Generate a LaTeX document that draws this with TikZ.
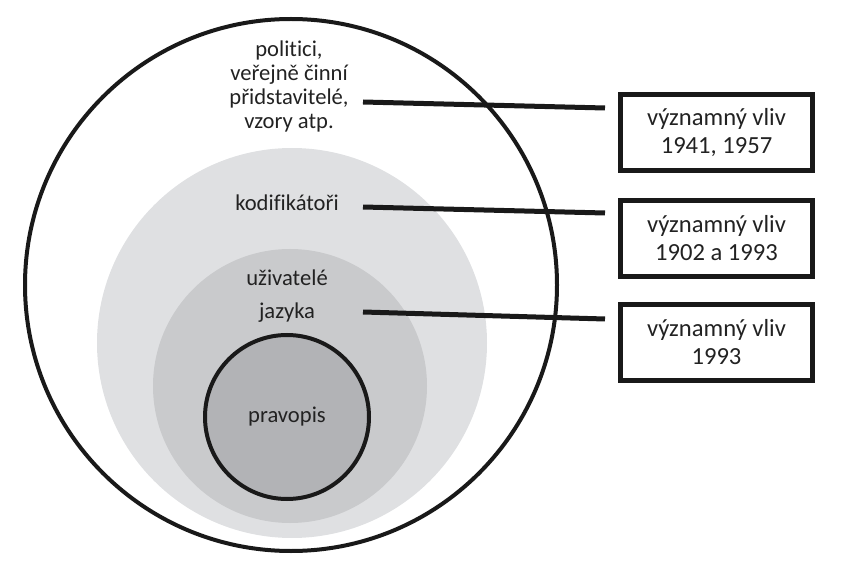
\documentclass[tikz,border=0pt]{standalone}
\usepackage{fontspec}
\setmainfont[Ligatures={NoCommon}]{Carlito}
\usetikzlibrary{positioning}
\definecolor{ringouter}{HTML}{DFE0E2}
\definecolor{ringmid}{HTML}{C9CACC}
\definecolor{ringcore}{HTML}{B2B3B6}
\definecolor{inktext}{HTML}{222222}
\tikzset{
   circle text/.style={font=\fontsize{11.3}{12}\selectfont, text=inktext,
      align=center, inner sep=0pt},
   vliv box/.style={draw=black!90, line width=2.5pt, minimum width=96pt,
      minimum height=38pt, inner sep=0pt, align=center, text=inktext,
      font=\fontsize{12.3}{14}\selectfont},
   link/.style={draw=black!90, line width=2.5pt},
   ring line/.style={draw=black!90, line width=2pt},
    }
\begin{document}
\begin{tikzpicture}[x=0.5pt,y=-0.5pt]
            \useasboundingbox (0,0) rectangle (847,567);
            % the rings
            \fill[ringouter] (292,343) circle (195);
            \fill[ringmid] (290,386) circle (137);
            \fill[ringcore] (287,417) circle (82);
            \draw[ring line] (287,417) circle (82);
            \draw[ring line] (291,285) circle (266);
            % texts in the rings
            \node[circle text] (politici) at (289,86) {politici,\\ veřejně činní\\ přidstavitelé,\\ vzory atp.};
            \node[circle text] (kodif) at (287,203) {kodifikátoři};
            \node[circle text] (uzivatele) at (287,278) {uživatelé};
            \node[circle text] (jazyk) at (287,313) {jazyka};
            \node[circle text] (pravopis) at (287,417) {pravopis};
            % boxes on the right
            \node[vliv box] (vliv1) at (716.5,132.5) {významný vliv\\ 1941, 1957};
            \node[vliv box] (vliv2) at (716.5,238.5) {významný vliv\\ 1902 a 1993};
            \node[vliv box] (vliv3) at (716.5,342.5) {významný vliv\\ 1993};
            % connectors
            \coordinate (from1) at (363,102);
            \coordinate (to1) at (605,108);
            \coordinate (from2) at (363,207);
            \coordinate (to2) at (605,213);
            \coordinate (from3) at (363,312);
            \coordinate (to3) at (605,319);
            \draw[link] (from1) -- (to1);
            \draw[link] (from2) -- (to2);
            \draw[link] (from3) -- (to3);
        \end{tikzpicture}
\end{document}
